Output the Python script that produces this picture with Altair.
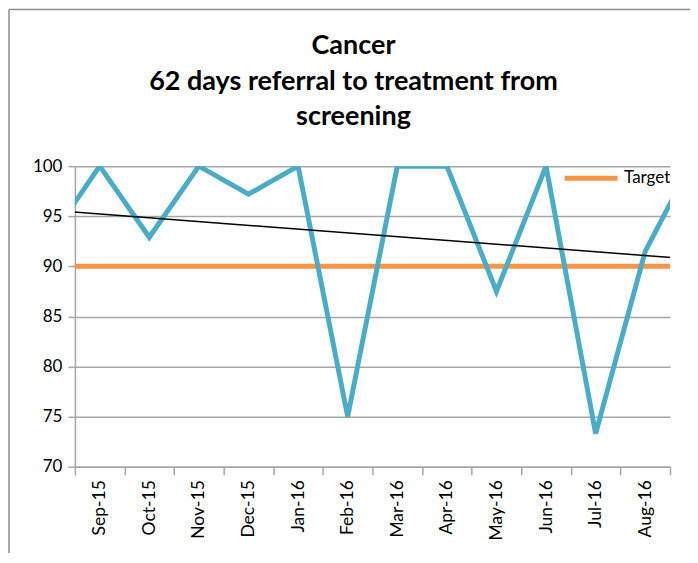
import altair as alt
import pandas as pd

# ---- data ----
months = ["Aug-15", "Sep-15", "Oct-15", "Nov-15", "Dec-15", "Jan-16", "Feb-16",
          "Mar-16", "Apr-16", "May-16", "Jun-16", "Jul-16", "Aug-16", "Sep-16"]
performance = [92.8, 100, 92.9, 100, 97.2, 100, 75, 100, 100, 87.5, 100, 73.3, 91.5, 101]
target_value = 90
trend_months = ["Aug-15", "Sep-16"]
trend_values = [95.6, 90.7]

title_lines = ["Cancer", "62 days referral to treatment from", "screening"]

FONT = "Lato"
BLUE = "#4BACC6"
ORANGE = "#F79646"
GRID = "#a6a6a6"

idx = {m: i for i, m in enumerate(months)}
perf_df = pd.DataFrame({"month": months, "i": [idx[m] for m in months], "value": performance})
target_df = pd.DataFrame({"month": months, "i": [idx[m] for m in months],
                          "value": [target_value] * len(months), "series": ["Target"] * len(months)})
trend_df = pd.DataFrame({"month": trend_months, "i": [idx[m] for m in trend_months], "value": trend_values})

label_js = "[" + ",".join("'" + m + "'" for m in months) + "]"

x_scale = alt.Scale(domain=[0.5, 12.5], nice=False, zero=False)
y_scale = alt.Scale(domain=[70, 100], nice=False, zero=False)

x_axis = alt.Axis(
    values=[k / 2 for k in range(1, 26)],
    labelExpr=f"datum.value % 1 === 0 ? {label_js}[datum.value] : ''",
    tickOpacity={"condition": {"test": "datum.value % 1 === 0", "value": 0}, "value": 1},
    labelAngle=-90, labelFont=FONT, labelFontSize=17.5, labelColor="#000000",
    labelPadding=5, labelFlush=False, labelOverlap=False, labelBound=False,
    grid=False, domainColor=GRID, domainWidth=1.5, tickColor=GRID, tickWidth=1.5,
    tickSize=8, title=None,
)
y_axis = alt.Axis(
    values=[70, 75, 80, 85, 90, 95, 100],
    labelFont=FONT, labelFontSize=17, labelColor="#000000", labelPadding=6,
    grid=True, gridColor=GRID, gridWidth=1.5, domainColor=GRID, domainWidth=1.5,
    tickColor=GRID, tickWidth=1.5, tickSize=7, title=None,
)

base_x = alt.X("i:Q", scale=x_scale, axis=x_axis)
base_y = alt.Y("value:Q", scale=y_scale, axis=y_axis)

target = alt.Chart(target_df).mark_line(strokeWidth=5, clip=True).encode(
    x=base_x, y=base_y,
    color=alt.Color("series:N", scale=alt.Scale(domain=["Target"], range=[ORANGE]),
                    legend=alt.Legend(
                        title=None, orient="none", legendX=488, legendY=-17,
                        symbolType="stroke", symbolSize=2809, symbolStrokeWidth=5,
                        labelFont=FONT, labelFontSize=17, labelColor="#000000",
                        labelOffset=4, padding=0)),
)

perf = alt.Chart(perf_df).mark_line(color=BLUE, strokeWidth=5, clip=True, strokeJoin="miter").encode(
    x=base_x, y=base_y,
)

trend = alt.Chart(trend_df).mark_line(color="#000000", strokeWidth=1.5, clip=True).encode(
    x=base_x, y=base_y,
)

# chart-area frame (decoration, as in the reference's Excel chart border)
frame = pd.DataFrame({"a": [0]})
border_left = alt.Chart(frame).mark_rule(color="#8c8c8c", strokeWidth=1.5).encode(
    x=alt.value(-66), y=alt.value(-157), y2=alt.value(420)
)
border_top = alt.Chart(frame).mark_rule(color="#8c8c8c", strokeWidth=1.5).encode(
    x=alt.value(-66), x2=alt.value(640), y=alt.value(-157)
)

chart = alt.layer(target, perf, trend, border_left, border_top).properties(
    width=596, height=301,
    title=alt.TitleParams(text=title_lines, font=FONT, fontSize=27, fontWeight="bold",
                          color="#000000", lineHeight=36, anchor="middle", dx=-19, offset=-123),
    autosize=alt.AutoSizeParams(type="none"),
    padding={"left": 67, "top": 158, "right": 20, "bottom": 86},
).configure_view(stroke=None)

chart.save("out.html", embed_options={"renderer": "svg", "actions": False})
